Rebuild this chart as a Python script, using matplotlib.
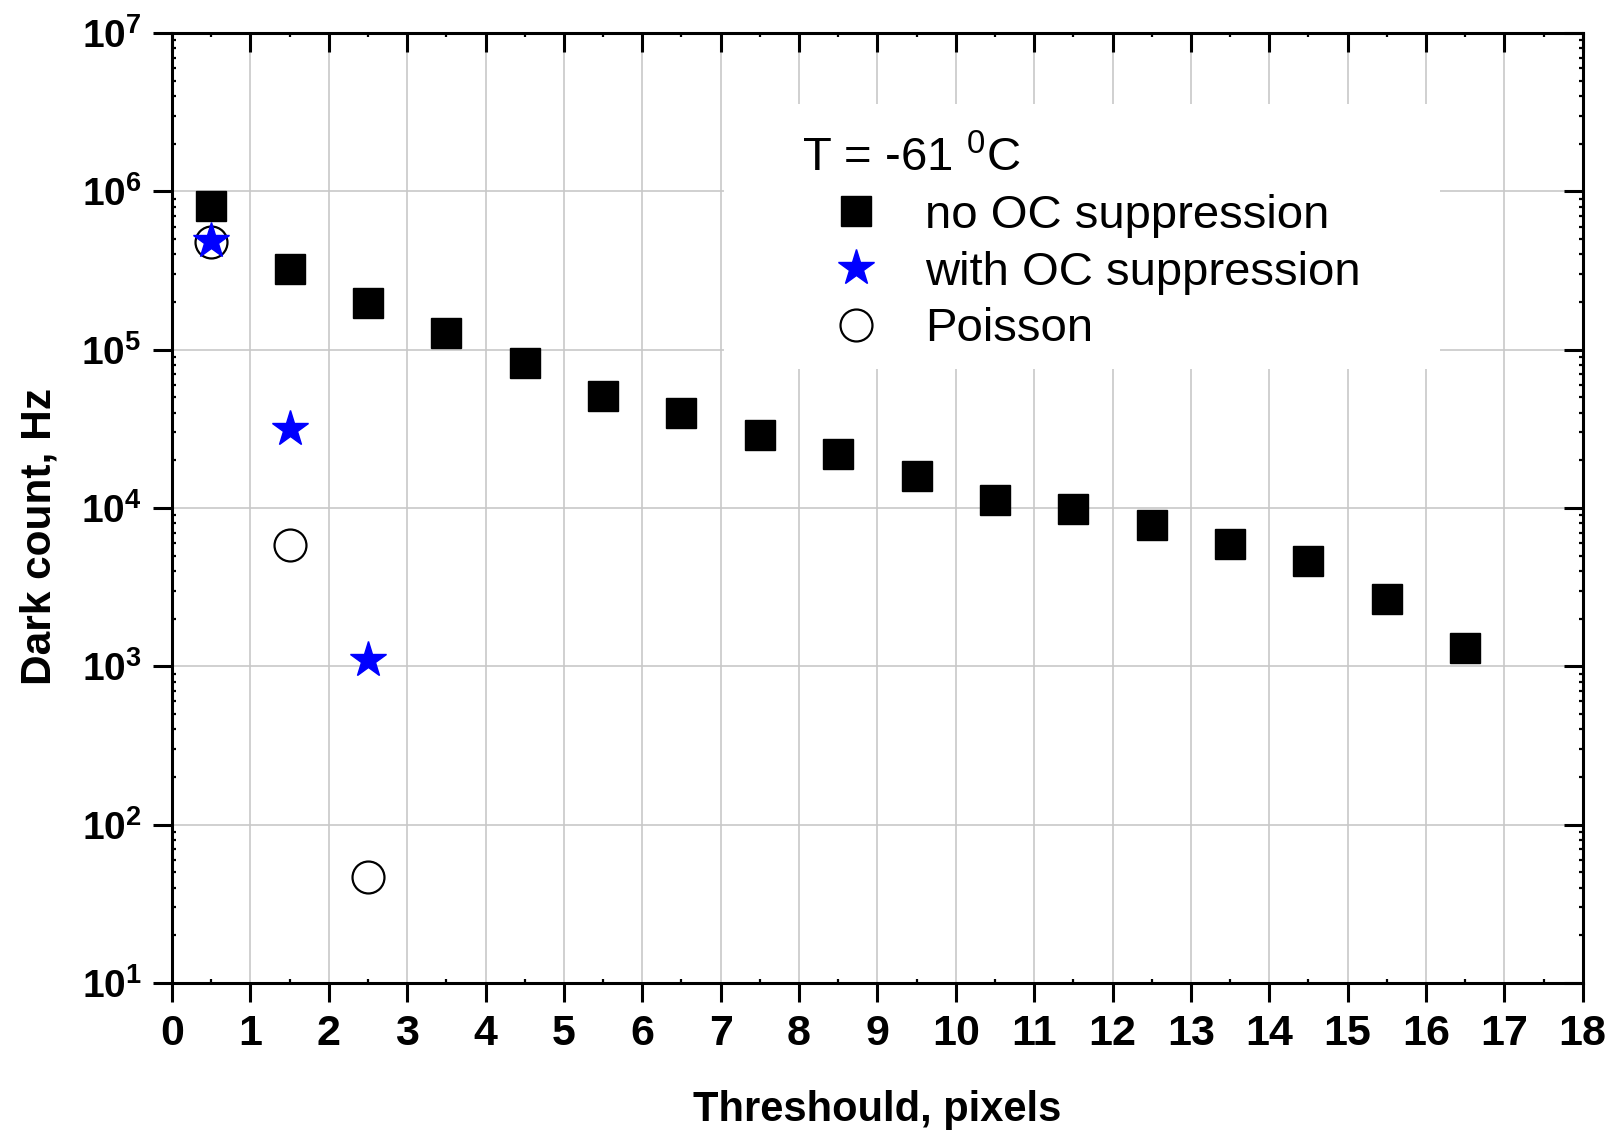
import matplotlib
matplotlib.use("Agg")
import matplotlib.pyplot as plt
import numpy as np
from matplotlib.ticker import LogLocator, NullFormatter, MultipleLocator
from matplotlib.patches import Rectangle

plt.rcParams['font.family'] = ['Liberation Sans', 'DejaVu Sans']
plt.rcParams['mathtext.fontset'] = 'custom'
plt.rcParams['mathtext.rm'] = 'Liberation Sans'
plt.rcParams['mathtext.bf'] = 'Liberation Sans:bold'

# data
thr = [0.5, 1.5, 2.5, 3.5, 4.5, 5.5, 6.5, 7.5, 8.5, 9.5, 10.5, 11.5, 12.5, 13.5, 14.5, 15.5, 16.5]
no_oc = [8.1e5, 3.24e5, 1.97e5, 1.28e5, 8.2e4, 5.1e4, 4.0e4, 2.9e4, 2.18e4, 1.59e4,
         1.13e4, 9.85e3, 7.86e3, 5.9e3, 4.65e3, 2.66e3, 1.31e3]
thr_oc = [0.5, 1.5, 2.5]
with_oc = [4.87e5, 3.17e4, 1.1e3]
poisson = [4.8e5, 5.8e3, 47]

ytick_vals = [1e1, 1e2, 1e3, 1e4, 1e5, 1e6, 1e7]
ytick_labels = [r'$\mathbf{10^{%d}}$' % k for k in range(1, 8)]

fig = plt.figure(figsize=(16.2, 11.32), dpi=100)
ax = fig.add_axes([0.1062, 0.1316, 0.8708, 0.8392])

ax.plot(thr, no_oc, 's', color='black', ms=21, ls='none', label='no OC suppression', zorder=3)
ax.plot(thr_oc, with_oc, '*', color='blue', ms=27, ls='none', label='with OC suppression', zorder=5)
ax.plot(thr_oc, poisson, 'o', mfc='none', mec='black', mew=1.6, ms=23, ls='none', label='Poisson', zorder=4)

ax.set_yscale('log')
ax.set_xlim(0, 18)
ax.set_ylim(1e1, 1e7)
ax.xaxis.set_major_locator(MultipleLocator(1))
ax.xaxis.set_minor_locator(MultipleLocator(0.5))
ax.set_yticks(ytick_vals)
ax.set_yticklabels(ytick_labels)
ax.yaxis.set_minor_locator(LogLocator(base=10, subs=np.arange(2, 10)))
ax.yaxis.set_minor_formatter(NullFormatter())

ax.grid(True, which='major', color='#c8c8c8', lw=1.2, zorder=0)
ax.set_axisbelow(True)

# white area behind the legend hides the grid
ax.add_patch(Rectangle((0.4469, 0.674), 0.442, 0.2341, transform=fig.transFigure,
                       facecolor='white', edgecolor='none', zorder=1))

for s in ax.spines.values():
    s.set_linewidth(2.2)

ax.tick_params(axis='both', which='major', length=14, width=2.2, pad=8)
ax.tick_params(axis='x', which='major', direction='out', top=True, labelsize=31)
ax.tick_params(axis='y', which='major', direction='out', right=True, labelsize=28)
ax.tick_params(axis='both', which='minor', length=3, width=1.6, top=True, right=True, direction='in')
for lbl in ax.get_xticklabels():
    lbl.set_fontweight('bold')

# ticks on top/right point inward
for t in ax.xaxis.get_major_ticks():
    t.tick2line.set_marker(3)
for t in ax.yaxis.get_major_ticks():
    t.tick2line.set_marker(0)

ax.set_xlabel('Threshould, pixels', fontsize=30, fontweight='bold', labelpad=26)
ax.set_ylabel('Dark count, Hz', fontsize=30.5, fontweight='bold')
ax.yaxis.set_label_coords(-0.080, 0.4705)

leg = ax.legend(loc='upper left', bbox_to_anchor=(0.4951, 0.8799),
                bbox_transform=fig.transFigure, frameon=False,
                fontsize=34, title='T = -61 $^{0}$C', title_fontsize=34,
                alignment='left', markerscale=1.0, handlelength=2.3, handletextpad=0.3,
                labelspacing=0.27, borderpad=0, borderaxespad=0)
leg.set_zorder(6)

fig.savefig('out.png', dpi=100)
